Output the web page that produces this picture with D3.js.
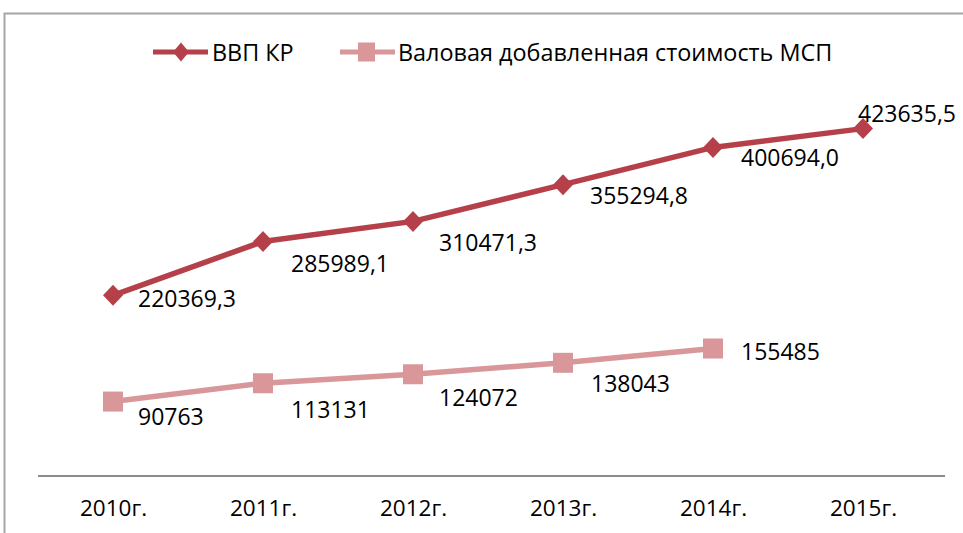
<!DOCTYPE html>
<html lang="ru">
  <head>
    <meta charset="UTF-8" />
    <title>ВВП КР и ВДС МСП</title>
    <style>
      html, body { margin: 0; padding: 0; background: #fff; }
      svg { display: block; font-family: "Open Sans", Lato, sans-serif; }
    </style>
  </head>
  <body>
    <svg id="chart" width="963" height="533"></svg>
    <script src="https://cdn.jsdelivr.net/npm/d3@7/dist/d3.min.js"></script>
    <script>
      // === Data === //
      var years = ["2010г.", "2011г.", "2012г.", "2013г.", "2014г.", "2015г."];
      var gdp = [220369.3, 285989.1, 310471.3, 355294.8, 400694.0, 423635.5];
      var gdpLabels = ["220369,3", "285989,1", "310471,3", "355294,8", "400694,0", "423635,5"];
      var smeYears = ["2010г.", "2011г.", "2012г.", "2013г.", "2014г."];
      var sme = [90763, 113131, 124072, 138043, 155485];
      var seriesNames = ["ВВП КР", "Валовая добавленная стоимость МСП"];

      // label offsets relative to the point (layout, not data)
      var gdpOff = [[25, 3], [28, 22], [26, 21], [27, 10], [28, 10], [-5, -16]];
      var smeOff = [[25, 14], [28, 26], [26, 23], [28, 20], [28, 2]];

      var colGdp = "#b5404a", colSme = "#d9979a";

      var width = 963, height = 533;
      var svg = d3.select("#chart");

      // frame
      svg.append("rect")
        .attr("x", 4.5).attr("y", 13.5)
        .attr("width", 970).attr("height", 560)
        .attr("fill", "none").attr("stroke", "#a6a6a6").attr("stroke-width", 2);

      var x = d3.scalePoint().domain(years).range([113, 863]);
      var y = d3.scaleLinear().domain([0, 500000]).range([476, 66]);

      // axis line and labels
      var xAxis = d3.axisBottom(x).tickSize(0).tickPadding(24);
      var gx = svg.append("g").attr("transform", "translate(0,476)").call(xAxis);
      gx.select(".domain").remove();
      gx.selectAll("text").attr("font-size", 22.5).attr("fill", "#000")
        .attr("font-family", "'Open Sans', Lato, sans-serif");
      svg.append("line")
        .attr("x1", 38).attr("x2", 945).attr("y1", 476).attr("y2", 476)
        .attr("stroke", "#8c8c8c").attr("stroke-width", 2);

      var line = d3.line().x(function(d) { return x(d.k); }).y(function(d) { return y(d.v); });

      var gdpData = years.map(function(k, i) { return { k: k, v: gdp[i], l: gdpLabels[i], o: gdpOff[i] }; });
      var smeData = smeYears.map(function(k, i) { return { k: k, v: sme[i], l: String(sme[i]), o: smeOff[i] }; });

      function diamond(sel, w, h) {
        sel.append("path")
          .attr("d", "M0," + (-h) + "L" + w + ",0L0," + h + "L" + (-w) + ",0Z");
      }

      // SME series
      svg.append("path").datum(smeData).attr("d", line)
        .attr("fill", "none").attr("stroke", colSme).attr("stroke-width", 5.5);
      svg.selectAll("rect.sme").data(smeData).enter().append("rect")
        .attr("class", "sme")
        .attr("x", function(d) { return x(d.k) - 10; })
        .attr("y", function(d) { return y(d.v) - 10; })
        .attr("width", 20).attr("height", 20).attr("fill", colSme);

      // GDP series
      svg.append("path").datum(gdpData).attr("d", line)
        .attr("fill", "none").attr("stroke", colGdp).attr("stroke-width", 5.5);
      svg.selectAll("g.gdp").data(gdpData).enter().append("g")
        .attr("class", "gdp")
        .attr("transform", function(d) { return "translate(" + x(d.k) + "," + y(d.v) + ")"; })
        .each(function() { diamond(d3.select(this), 10, 10.5); })
        .attr("fill", colGdp);

      // value labels
      function labels(data) {
        svg.selectAll(null).data(data).enter().append("text")
          .attr("x", function(d) { return x(d.k) + d.o[0]; })
          .attr("y", function(d) { return y(d.v) + d.o[1]; })
          .attr("font-size", 23).attr("fill", "#000")
          .attr("dominant-baseline", "central")
          .text(function(d) { return d.l; });
      }
      labels(gdpData);
      labels(smeData);

      // legend
      var lg = svg.append("g").attr("transform", "translate(0,52)");
      lg.append("line").attr("x1", 153).attr("x2", 208).attr("stroke", colGdp).attr("stroke-width", 5);
      diamond(lg.append("g").attr("transform", "translate(181,0)").attr("fill", colGdp), 8, 9.5);
      lg.append("text").attr("x", 212).attr("y", 0).attr("dominant-baseline", "central")
        .attr("font-size", 23.4).text(seriesNames[0]);
      lg.append("line").attr("x1", 340).attr("x2", 395).attr("stroke", colSme).attr("stroke-width", 5);
      lg.append("rect").attr("x", 358).attr("y", -9.5).attr("width", 17).attr("height", 19).attr("fill", colSme);
      lg.append("text").attr("x", 398).attr("y", 0).attr("dominant-baseline", "central")
        .attr("font-size", 23.4).text(seriesNames[1]);
    </script>
  </body>
</html>
